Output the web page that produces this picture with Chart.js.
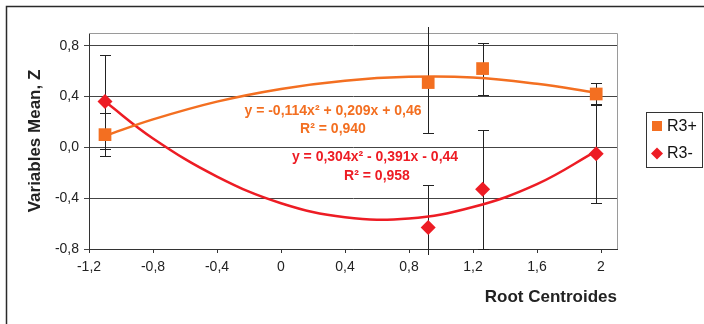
<!DOCTYPE html>
<html>
<head>
<meta charset="utf-8">
<script src="https://cdn.jsdelivr.net/npm/chart.js@4.4.1/dist/chart.umd.min.js"></script>
<style>
  html, body { margin: 0; padding: 0; background: #fff; overflow: hidden; }
  #chart { display: block; }
</style>
</head>
<body>
<canvas id="chart" width="704" height="324"></canvas>
<script>
// root centroid positions and group means
const xPoints = [-1.1, 0.92, 1.26, 1.97];
const r3PlusMeans = [0.10, 0.51, 0.62, 0.42];
const r3PlusErrors = [0.17, 0.40, 0.205, 0.09];
const r3MinusMeans = [0.36, -0.63, -0.33, -0.05];
const r3MinusErrors = [0.37, 0.335, 0.47, 0.39];

// polynomial trendlines as drawn
const trendX = [-1.1, -0.8, -0.4, 0, 0.4, 0.8, 1.2, 1.6, 1.97];
const r3PlusTrend = [0.09, 0.22, 0.36, 0.46, 0.525, 0.555, 0.55, 0.50, 0.43];
const r3MinusTrend = [0.36, 0.07, -0.23, -0.44, -0.55, -0.56, -0.47, -0.29, -0.03];

const xTicks = [-1.2, -0.8, -0.4, 0, 0.4, 0.8, 1.2, 1.6, 2];
const xTickLabels = ['-1,2', '-0,8', '-0,4', '0', '0,4', '0,8', '1,2', '1,6', '2'];
const yTicks = [-0.8, -0.4, 0, 0.4, 0.8];
const yTickLabels = ['-0,8', '-0,4', '0,0', '0,4', '0,8'];

const ORANGE = '#f36f21';
const RED = '#ed1c24';
const FONT = "'Liberation Sans', Arial, sans-serif";

const toPoints = (xs, ys) => xs.map((x, i) => ({ x: x, y: ys[i] }));

// outer frame + white background
const framePlugin = {
    id: 'frame',
    beforeDraw(chart) {
        const ctx = chart.ctx;
        ctx.save();
        ctx.fillStyle = '#fff';
        ctx.fillRect(0, 0, chart.width, chart.height);
        ctx.strokeStyle = '#2a2a2a';
        ctx.lineWidth = 1.5;
        ctx.strokeRect(6.5, 6.5, 760, 400);
        ctx.restore();
    }
};

// error bars, drawn under the markers
const errorBarPlugin = {
    id: 'errorBars',
    beforeDatasetsDraw(chart) {
        const { ctx, chartArea, scales: { x, y } } = chart;
        ctx.save();
        // gray top/right edges of the plot area
        ctx.strokeStyle = '#9a9a9a';
        ctx.lineWidth = 1;
        ctx.beginPath();
        ctx.moveTo(chartArea.left, chartArea.top + 0.5);
        ctx.lineTo(chartArea.right + 0.5, chartArea.top + 0.5);
        ctx.lineTo(chartArea.right + 0.5, chartArea.bottom);
        ctx.stroke();

        ctx.strokeStyle = '#222';
        const groups = [[r3PlusMeans, r3PlusErrors], [r3MinusMeans, r3MinusErrors]];
        groups.forEach(([means, errs]) => {
            means.forEach((m, i) => {
                const px = Math.round(x.getPixelForValue(xPoints[i])) + 0.5;
                const hi = m + errs[i];
                const lo = m - errs[i];
                const ends = [hi, lo].map(v => {
                    if (v < y.min) return { py: chartArea.bottom + 6, cap: false };
                    if (v > y.max) return { py: chartArea.top - 6, cap: false };
                    return { py: Math.round(y.getPixelForValue(v)) + 0.5, cap: true };
                });
                ctx.beginPath();
                ctx.moveTo(px, ends[0].py);
                ctx.lineTo(px, ends[1].py);
                ends.forEach(e => {
                    if (e.cap) {
                        ctx.moveTo(px - 5.5, e.py);
                        ctx.lineTo(px + 5.5, e.py);
                    }
                });
                ctx.stroke();
            });
        });
        ctx.restore();
    }
};

// trendline equations + boxed legend
const labelPlugin = {
    id: 'labels',
    afterDraw(chart) {
        const ctx = chart.ctx;
        ctx.save();
        ctx.textAlign = 'center';
        ctx.textBaseline = 'middle';
        ctx.font = 'bold 14px ' + FONT;
        ctx.fillStyle = ORANGE;
        ctx.fillText('y = -0,114x² + 0,209x + 0,46', 333, 111);
        ctx.fillText('R² = 0,940', 333, 129);
        ctx.fillStyle = RED;
        ctx.fillText('y = 0,304x² - 0,391x - 0,44', 375, 157);
        ctx.fillText('R² = 0,958', 377, 176);

        // legend
        ctx.strokeStyle = '#333';
        ctx.lineWidth = 1;
        ctx.strokeRect(646.5, 112.5, 56, 55);
        ctx.fillStyle = ORANGE;
        ctx.fillRect(652, 121, 10, 10);
        ctx.fillStyle = RED;
        ctx.beginPath();
        ctx.moveTo(651, 153.5);
        ctx.lineTo(657, 147.5);
        ctx.lineTo(663, 153.5);
        ctx.lineTo(657, 159.5);
        ctx.closePath();
        ctx.fill();
        ctx.fillStyle = '#111';
        ctx.textAlign = 'left';
        ctx.font = '16px ' + FONT;
        ctx.fillText('R3+', 667, 127);
        ctx.fillText('R3-', 667, 154);
        ctx.restore();
    }
};

new Chart(document.getElementById('chart'), {
    type: 'scatter',
    data: {
        datasets: [
            {
                label: 'R3+',
                data: toPoints(xPoints, r3PlusMeans),
                pointStyle: 'rect',
                pointRadius: 9,
                backgroundColor: ORANGE,
                borderColor: ORANGE,
                borderWidth: 0
            },
            {
                label: 'R3-',
                data: toPoints(xPoints, r3MinusMeans),
                pointStyle: 'rectRot',
                pointRadius: 7.5,
                backgroundColor: RED,
                borderColor: RED,
                borderWidth: 0
            },
            {
                label: 'R3+ trend',
                data: toPoints(trendX, r3PlusTrend),
                showLine: true,
                pointRadius: 0,
                borderColor: ORANGE,
                borderWidth: 2.5,
                tension: 0.4
            },
            {
                label: 'R3- trend',
                data: toPoints(trendX, r3MinusTrend),
                showLine: true,
                pointRadius: 0,
                borderColor: RED,
                borderWidth: 2.5,
                tension: 0.4
            }
        ]
    },
    options: {
        responsive: false,
        animation: false,
        layout: { padding: { left: 0, top: 33, right: 87, bottom: 0 } },
        plugins: {
            legend: { display: false },
            tooltip: { enabled: false }
        },
        scales: {
            x: {
                type: 'linear',
                min: -1.2,
                max: 2.1,
                afterBuildTicks: scale => { scale.ticks = xTicks.map(v => ({ value: v })); },
                afterFit: scale => { scale.height = 75; },
                border: { color: '#333', width: 1 },
                grid: { drawOnChartArea: false, drawTicks: true, tickLength: 4, color: '#333' },
                ticks: {
                    padding: 6,
                    color: '#222',
                    font: { family: FONT, size: 14 },
                    maxRotation: 0,
                    callback: (v, i) => xTickLabels[i]
                },
                title: {
                    display: true,
                    text: 'Root Centroides',
                    align: 'end',
                    color: '#222',
                    font: { family: FONT, size: 17, weight: 'bold' },
                    padding: { top: 0, bottom: 16 }
                }
            },
            y: {
                min: -0.8,
                max: 0.9,
                afterBuildTicks: scale => { scale.ticks = yTicks.map(v => ({ value: v })); },
                afterFit: scale => { scale.width = 89; },
                border: { color: '#333', width: 1 },
                grid: { color: '#444', tickLength: 5, drawTicks: true },
                ticks: {
                    padding: 5,
                    color: '#222',
                    font: { family: FONT, size: 14 },
                    callback: (v, i) => yTickLabels[i]
                },
                title: {
                    display: true,
                    text: 'Variables Mean, Z',
                    color: '#222',
                    font: { family: FONT, size: 17, weight: 'bold' },
                    padding: { top: 25, bottom: 0 }
                }
            }
        }
    },
    plugins: [framePlugin, errorBarPlugin, labelPlugin]
});
</script>
</body>
</html>
